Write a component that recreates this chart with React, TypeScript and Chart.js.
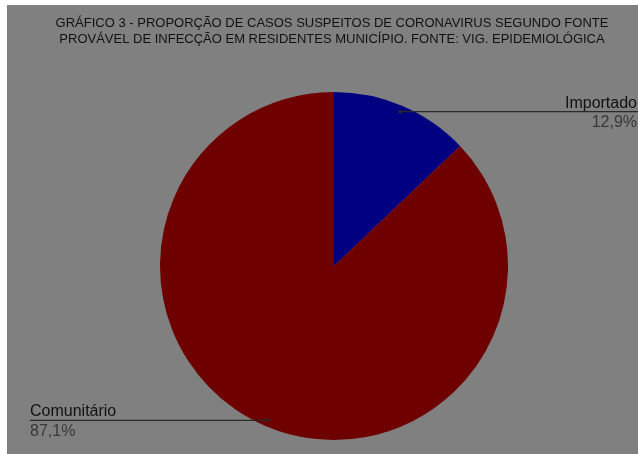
import React, { useEffect, useRef } from "react";
import { Chart, registerables } from "chart.js";

Chart.register(...registerables);

const categories = ["Importado", "Comunitário"];
const percentLabels = ["12,9%", "87,1%"];
const values = [12.9, 87.1];
const colors = ["#000080", "#6e0000"];
const titleLines = [
  "GRÁFICO 3 - PROPORÇÃO DE CASOS SUSPEITOS DE CORONAVIRUS SEGUNDO FONTE",
  "PROVÁVEL DE INFECÇÃO EM RESIDENTES MUNICÍPIO. FONTE: VIG. EPIDEMIOLÓGICA",
];

const W = 638;
const H = 454;

const bgPlugin = {
  id: "bgPlugin",
  beforeDraw(chart: any) {
    const ctx = chart.ctx;
    ctx.save();
    ctx.fillStyle = "#ffffff";
    ctx.fillRect(0, 0, chart.width, chart.height);
    ctx.fillStyle = "#808080";
    ctx.fillRect(7, 5, chart.width - 7, chart.height - 5);
    ctx.fillStyle = "#111111";
    ctx.font = "13px 'Liberation Sans', Arial, sans-serif";
    ctx.textAlign = "center";
    ctx.textBaseline = "middle";
    titleLines.forEach((t, i) => ctx.fillText(t, 332, 23 + i * 16));
    ctx.restore();
  },
};

const labelPlugin = {
  id: "labelPlugin",
  afterDraw(chart: any) {
    const ctx = chart.ctx;
    const meta = chart.getDatasetMeta(0);
    ctx.save();
    meta.data.forEach((arc: any, i: number) => {
      const p = arc.getProps(["x", "y", "startAngle", "endAngle", "outerRadius"], true);
      const mid = (p.startAngle + p.endAngle) / 2;
      const r = p.outerRadius * 0.965;
      const px = p.x + Math.cos(mid) * r;
      const py = p.y + Math.sin(mid) * r;
      const right = px > p.x;
      const ex = right ? chart.width : 30;
      ctx.strokeStyle = "#2a2a2a";
      ctx.lineWidth = 1.2;
      ctx.beginPath();
      ctx.moveTo(px, py);
      ctx.lineTo(ex, py);
      ctx.stroke();
      ctx.fillStyle = "#2a2a2a";
      ctx.beginPath();
      ctx.arc(px, py, 1.8, 0, Math.PI * 2);
      ctx.fill();
      ctx.font = "16px 'Liberation Sans', Arial, sans-serif";
      ctx.textAlign = right ? "right" : "left";
      const tx = right ? chart.width - 1 : 30;
      ctx.textBaseline = "alphabetic";
      ctx.fillStyle = "#111111";
      ctx.fillText(categories[i], tx, py - 4);
      ctx.textBaseline = "top";
      ctx.fillStyle = "#383838";
      ctx.fillText(percentLabels[i], tx, py + 3);
    });
    ctx.restore();
  },
};

export default function App() {
  const ref = useRef<HTMLCanvasElement>(null);
  useEffect(() => {
    if (!ref.current) return;
    const chart = new Chart(ref.current, {
      type: "pie",
      data: {
        labels: categories,
        datasets: [
          {
            data: values,
            backgroundColor: colors,
            borderWidth: 0,
          },
        ],
      },
      options: {
        animation: false,
        responsive: false,
        maintainAspectRatio: false,
        layout: { padding: { left: 160, right: 130, top: 92, bottom: 14 } },
        plugins: {
          legend: { display: false },
          title: { display: false },
          tooltip: { enabled: false },
        },
      },
      plugins: [bgPlugin, labelPlugin],
    });
    return () => chart.destroy();
  }, []);
  return (
    <div style={{ position: "absolute", left: 0, top: 0, width: W, height: H }}>
      <canvas ref={ref} width={W} height={H} style={{ width: W, height: H, display: "block" }} />
    </div>
  );
}
